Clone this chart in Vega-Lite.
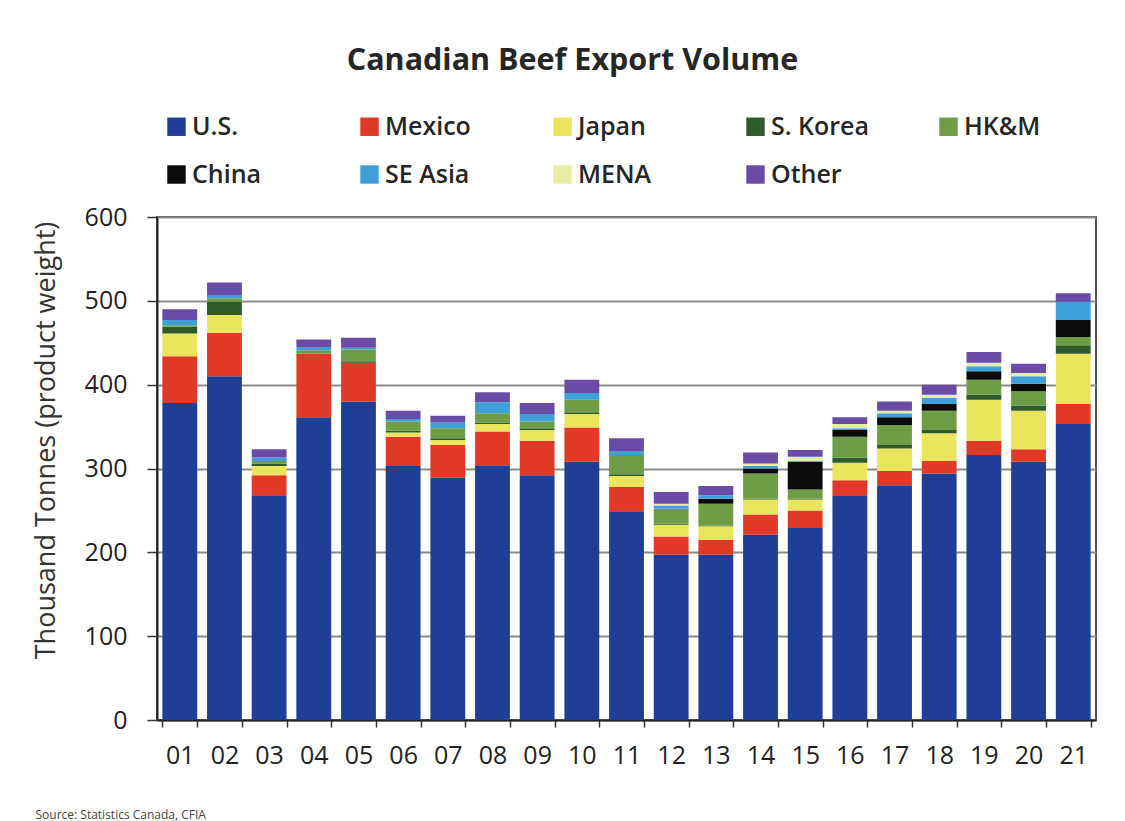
{
  "$schema": "https://vega.github.io/schema/vega-lite/v6.json",
  "autosize": "none",
  "width": 939,
  "height": 503,
  "padding": {"left": 157, "top": 217, "right": 29, "bottom": 101},
  "background": "white",
  "title": {
    "text": "Canadian Beef Export Volume",
    "fontSize": 30.5,
    "fontWeight": "bold",
    "font": "Open Sans",
    "color": "#262626",
    "anchor": "middle",
    "dx": -54,
    "dy": -34
  },
  "data": {
    "values": [
      {"year": "01", "region": "U.S.", "value": 378},
      {"year": "01", "region": "Mexico", "value": 56},
      {"year": "01", "region": "Japan", "value": 27},
      {"year": "01", "region": "S. Korea", "value": 8},
      {"year": "01", "region": "HK&M", "value": 2},
      {"year": "01", "region": "SE Asia", "value": 6},
      {"year": "01", "region": "Other", "value": 13},
      {"year": "02", "region": "U.S.", "value": 410},
      {"year": "02", "region": "Mexico", "value": 52},
      {"year": "02", "region": "Japan", "value": 21},
      {"year": "02", "region": "S. Korea", "value": 16},
      {"year": "02", "region": "HK&M", "value": 4},
      {"year": "02", "region": "SE Asia", "value": 4},
      {"year": "02", "region": "Other", "value": 15},
      {"year": "03", "region": "U.S.", "value": 268},
      {"year": "03", "region": "Mexico", "value": 24},
      {"year": "03", "region": "Japan", "value": 11},
      {"year": "03", "region": "S. Korea", "value": 3},
      {"year": "03", "region": "HK&M", "value": 3},
      {"year": "03", "region": "SE Asia", "value": 4},
      {"year": "03", "region": "Other", "value": 10},
      {"year": "04", "region": "U.S.", "value": 361},
      {"year": "04", "region": "Mexico", "value": 76},
      {"year": "04", "region": "HK&M", "value": 4},
      {"year": "04", "region": "SE Asia", "value": 4},
      {"year": "04", "region": "Other", "value": 9},
      {"year": "05", "region": "U.S.", "value": 380},
      {"year": "05", "region": "Mexico", "value": 46},
      {"year": "05", "region": "S. Korea", "value": 2},
      {"year": "05", "region": "HK&M", "value": 14},
      {"year": "05", "region": "SE Asia", "value": 2},
      {"year": "05", "region": "Other", "value": 12},
      {"year": "06", "region": "U.S.", "value": 303},
      {"year": "06", "region": "Mexico", "value": 35},
      {"year": "06", "region": "Japan", "value": 5},
      {"year": "06", "region": "S. Korea", "value": 2},
      {"year": "06", "region": "HK&M", "value": 11},
      {"year": "06", "region": "SE Asia", "value": 3},
      {"year": "06", "region": "Other", "value": 10},
      {"year": "07", "region": "U.S.", "value": 289},
      {"year": "07", "region": "Mexico", "value": 39},
      {"year": "07", "region": "Japan", "value": 6},
      {"year": "07", "region": "S. Korea", "value": 2},
      {"year": "07", "region": "HK&M", "value": 12},
      {"year": "07", "region": "SE Asia", "value": 7},
      {"year": "07", "region": "Other", "value": 8},
      {"year": "08", "region": "U.S.", "value": 304},
      {"year": "08", "region": "Mexico", "value": 40},
      {"year": "08", "region": "Japan", "value": 9},
      {"year": "08", "region": "S. Korea", "value": 2},
      {"year": "08", "region": "HK&M", "value": 11},
      {"year": "08", "region": "SE Asia", "value": 13},
      {"year": "08", "region": "Other", "value": 12},
      {"year": "09", "region": "U.S.", "value": 292},
      {"year": "09", "region": "Mexico", "value": 41},
      {"year": "09", "region": "Japan", "value": 13},
      {"year": "09", "region": "S. Korea", "value": 2},
      {"year": "09", "region": "HK&M", "value": 8},
      {"year": "09", "region": "SE Asia", "value": 9},
      {"year": "09", "region": "Other", "value": 13},
      {"year": "10", "region": "U.S.", "value": 308},
      {"year": "10", "region": "Mexico", "value": 41},
      {"year": "10", "region": "Japan", "value": 16},
      {"year": "10", "region": "S. Korea", "value": 2},
      {"year": "10", "region": "HK&M", "value": 15},
      {"year": "10", "region": "SE Asia", "value": 8},
      {"year": "10", "region": "Other", "value": 16},
      {"year": "11", "region": "U.S.", "value": 249},
      {"year": "11", "region": "Mexico", "value": 29},
      {"year": "11", "region": "Japan", "value": 13},
      {"year": "11", "region": "S. Korea", "value": 2},
      {"year": "11", "region": "HK&M", "value": 23},
      {"year": "11", "region": "SE Asia", "value": 5},
      {"year": "11", "region": "Other", "value": 15},
      {"year": "12", "region": "U.S.", "value": 197},
      {"year": "12", "region": "Mexico", "value": 22},
      {"year": "12", "region": "Japan", "value": 14},
      {"year": "12", "region": "S. Korea", "value": 1},
      {"year": "12", "region": "HK&M", "value": 18},
      {"year": "12", "region": "SE Asia", "value": 4},
      {"year": "12", "region": "MENA", "value": 2},
      {"year": "12", "region": "Other", "value": 14},
      {"year": "13", "region": "U.S.", "value": 197},
      {"year": "13", "region": "Mexico", "value": 18},
      {"year": "13", "region": "Japan", "value": 16},
      {"year": "13", "region": "S. Korea", "value": 1},
      {"year": "13", "region": "HK&M", "value": 26},
      {"year": "13", "region": "China", "value": 6},
      {"year": "13", "region": "SE Asia", "value": 4},
      {"year": "13", "region": "Other", "value": 11},
      {"year": "14", "region": "U.S.", "value": 221},
      {"year": "14", "region": "Mexico", "value": 24},
      {"year": "14", "region": "Japan", "value": 18},
      {"year": "14", "region": "S. Korea", "value": 1},
      {"year": "14", "region": "HK&M", "value": 30},
      {"year": "14", "region": "China", "value": 6},
      {"year": "14", "region": "SE Asia", "value": 3},
      {"year": "14", "region": "MENA", "value": 3},
      {"year": "14", "region": "Other", "value": 13},
      {"year": "15", "region": "U.S.", "value": 229},
      {"year": "15", "region": "Mexico", "value": 21},
      {"year": "15", "region": "Japan", "value": 13},
      {"year": "15", "region": "S. Korea", "value": 1},
      {"year": "15", "region": "HK&M", "value": 11},
      {"year": "15", "region": "China", "value": 33},
      {"year": "15", "region": "SE Asia", "value": 1},
      {"year": "15", "region": "MENA", "value": 5},
      {"year": "15", "region": "Other", "value": 8},
      {"year": "16", "region": "U.S.", "value": 268},
      {"year": "16", "region": "Mexico", "value": 18},
      {"year": "16", "region": "Japan", "value": 21},
      {"year": "16", "region": "S. Korea", "value": 6},
      {"year": "16", "region": "HK&M", "value": 25},
      {"year": "16", "region": "China", "value": 8},
      {"year": "16", "region": "SE Asia", "value": 2},
      {"year": "16", "region": "MENA", "value": 5},
      {"year": "16", "region": "Other", "value": 8},
      {"year": "17", "region": "U.S.", "value": 280},
      {"year": "17", "region": "Mexico", "value": 17},
      {"year": "17", "region": "Japan", "value": 27},
      {"year": "17", "region": "S. Korea", "value": 4},
      {"year": "17", "region": "HK&M", "value": 24},
      {"year": "17", "region": "China", "value": 9},
      {"year": "17", "region": "SE Asia", "value": 5},
      {"year": "17", "region": "MENA", "value": 3},
      {"year": "17", "region": "Other", "value": 11},
      {"year": "18", "region": "U.S.", "value": 294},
      {"year": "18", "region": "Mexico", "value": 15},
      {"year": "18", "region": "Japan", "value": 33},
      {"year": "18", "region": "S. Korea", "value": 4},
      {"year": "18", "region": "HK&M", "value": 23},
      {"year": "18", "region": "China", "value": 8},
      {"year": "18", "region": "SE Asia", "value": 7},
      {"year": "18", "region": "MENA", "value": 4},
      {"year": "18", "region": "Other", "value": 12},
      {"year": "19", "region": "U.S.", "value": 316},
      {"year": "19", "region": "Mexico", "value": 17},
      {"year": "19", "region": "Japan", "value": 49},
      {"year": "19", "region": "S. Korea", "value": 6},
      {"year": "19", "region": "HK&M", "value": 18},
      {"year": "19", "region": "China", "value": 10},
      {"year": "19", "region": "SE Asia", "value": 6},
      {"year": "19", "region": "MENA", "value": 4},
      {"year": "19", "region": "Other", "value": 13},
      {"year": "20", "region": "U.S.", "value": 308},
      {"year": "20", "region": "Mexico", "value": 15},
      {"year": "20", "region": "Japan", "value": 46},
      {"year": "20", "region": "S. Korea", "value": 6},
      {"year": "20", "region": "HK&M", "value": 17},
      {"year": "20", "region": "China", "value": 9},
      {"year": "20", "region": "SE Asia", "value": 9},
      {"year": "20", "region": "MENA", "value": 4},
      {"year": "20", "region": "Other", "value": 11},
      {"year": "21", "region": "U.S.", "value": 353},
      {"year": "21", "region": "Mexico", "value": 24},
      {"year": "21", "region": "Japan", "value": 60},
      {"year": "21", "region": "S. Korea", "value": 10},
      {"year": "21", "region": "HK&M", "value": 10},
      {"year": "21", "region": "China", "value": 20},
      {"year": "21", "region": "SE Asia", "value": 22},
      {"year": "21", "region": "Other", "value": 10}
    ]
  },
  "transform": [
    {"calculate": "indexof(['U.S.','Mexico','Japan','S. Korea','HK&M','China','SE Asia','MENA','Other'], datum.region)", "as": "stackOrder"}
  ],
  "mark": {"type": "bar"},
  "encoding": {
    "x": {
      "field": "year",
      "type": "ordinal",
      "scale": {"paddingInner": 0.22, "paddingOuter": 0.12},
      "axis": {
        "title": "Source: Statistics Canada, CFIA",
        "titleFontSize": 12,
        "titleFontWeight": "normal",
        "titleColor": "#444",
        "titleFont": "Open Sans",
        "titleAnchor": "start",
        "titleAlign": "left",
        "titleBaseline": "middle",
        "titleX": -122,
        "titleY": 94,
        "labelAngle": 0,
        "labelFontSize": 25,
        "labelFont": "Open Sans",
        "labelColor": "#222",
        "labelPadding": 16,
        "tickBand": "extent",
        "tickSize": 7,
        "tickColor": "#333",
        "tickWidth": 1.5,
        "domainColor": "#222",
        "domainWidth": 2
      }
    },
    "y": {
      "field": "value",
      "type": "quantitative",
      "aggregate": "sum",
      "stack": "zero",
      "scale": {"domain": [0, 600]},
      "axis": {
        "title": "Thousand Tonnes (product weight)",
        "titleFontSize": 27,
        "titleFontWeight": "normal",
        "titleFont": "Open Sans",
        "titleColor": "#333",
        "titlePadding": 24,
        "titleY": 223,
        "values": [0, 100, 200, 300, 400, 500, 600],
        "labelFontSize": 25,
        "labelFont": "Open Sans",
        "labelColor": "#222",
        "labelPadding": 20,
        "tickSize": 10,
        "tickColor": "#333",
        "tickWidth": 1.5,
        "domainColor": "#222",
        "domainWidth": 2,
        "grid": true,
        "gridColor": "#8a8a8a",
        "gridWidth": 2
      }
    },
    "color": {
      "field": "region",
      "type": "nominal",
      "scale": {
        "domain": ["U.S.", "Mexico", "Japan", "S. Korea", "HK&M", "China", "SE Asia", "MENA", "Other"],
        "range": ["#1F3E96", "#E03A26", "#E9E55C", "#2F5A2A", "#6E9D45", "#0B0B0B", "#3FA0D8", "#E8EDA6", "#6A4BA6"]
      },
      "legend": {
        "title": null,
        "orient": "none",
        "legendX": 7,
        "legendY": -103,
        "direction": "horizontal",
        "columns": 5,
        "gridAlign": "all",
        "columnPadding": 67,
        "rowPadding": 22,
        "symbolType": "square",
        "symbolSize": 340,
        "symbolStrokeWidth": 0,
        "labelFontSize": 25,
        "labelFontWeight": 600,
        "labelFont": "Open Sans",
        "labelColor": "#262626",
        "labelOffset": 3
      }
    },
    "order": {"field": "stackOrder", "type": "quantitative", "aggregate": "min"}
  },
  "config": {
    "view": {"stroke": "#555", "strokeWidth": 2}
  }
}
